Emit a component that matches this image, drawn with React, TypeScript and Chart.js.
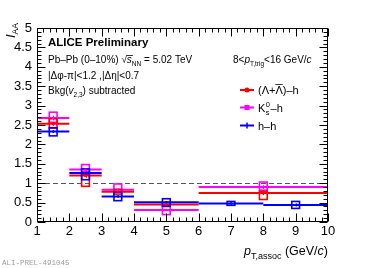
import React, { useEffect, useRef } from "react";
import { Chart, registerables } from "chart.js";
Chart.register(...registerables);

// ---- data ----
const lambdaX = [1.5, 2.5, 3.5, 5, 8];
const lambdaXLow = [1, 2, 3, 4, 6];
const lambdaXHigh = [2, 3, 4, 6, 10];
const lambdaY = [2.53, 1.2, 0.78, 0.45, 0.75];
const lambdaStat = [0.05, 0.06, 0.03, 0.03, 0.06];
const lambdaSysLow = [2.42, 0.92, 0.72, 0.4, 0.58];
const lambdaSysHigh = [2.66, 1.23, 0.84, 0.5, 0.79];

const k0X = [1.5, 2.5, 3.5, 5, 8];
const k0XLow = [1, 2, 3, 4, 6];
const k0XHigh = [2, 3, 4, 6, 10];
const k0Y = [2.68, 1.35, 0.83, 0.31, 0.9];
const k0Stat = [0.06, 0.04, 0.04, 0.03, 0.05];
const k0SysLow = [2.57, 1.3, 0.79, 0.19, 0.82];
const k0SysHigh = [2.83, 1.48, 0.98, 0.41, 1.03];

const hhX = [1.5, 2.5, 3.5, 5, 7, 9];
const hhXLow = [1, 2, 3, 4, 6, 8];
const hhXHigh = [2, 3, 4, 6, 8, 10];
const hhY = [2.33, 1.26, 0.66, 0.51, 0.48, 0.44];
const hhStat = [0.03, 0.04, 0.03, 0.03, 0.02, 0.04];
const hhSysLow = [2.22, 1.09, 0.55, 0.41, 0.43, 0.35];
const hhSysHigh = [2.43, 1.37, 0.77, 0.6, 0.53, 0.53];

const xTicks = [1, 2, 3, 4, 5, 6, 7, 8, 9, 10];
const yTicks = [0, 0.5, 1, 1.5, 2, 2.5, 3, 3.5, 4, 4.5, 5];
const referenceLine = 1;

const RED = "#ff0000";
const MAGENTA = "#ff00ff";
const BLUE = "#0000ff";
const FONT = '"Liberation Sans", Arial, Helvetica, sans-serif';

type Series = {
  x: number[]; xl: number[]; xh: number[]; y: number[]; stat: number[];
  sl: number[]; sh: number[]; color: string;
};
const seriesList: Series[] = [
  { x: k0X, xl: k0XLow, xh: k0XHigh, y: k0Y, stat: k0Stat, sl: k0SysLow, sh: k0SysHigh, color: MAGENTA },
  { x: lambdaX, xl: lambdaXLow, xh: lambdaXHigh, y: lambdaY, stat: lambdaStat, sl: lambdaSysLow, sh: lambdaSysHigh, color: RED },
  { x: hhX, xl: hhXLow, xh: hhXHigh, y: hhY, stat: hhStat, sl: hhSysLow, sh: hhSysHigh, color: BLUE },
];

type Part = { t: string; size: number; italic?: boolean; bold?: boolean; dy?: number };
const fontOf = (p: Part) => `${p.italic ? "italic " : ""}${p.bold ? "bold " : ""}${p.size}px ${FONT}`;
function drawRich(ctx: CanvasRenderingContext2D, x: number, y: number, parts: Part[], align = "left") {
  const widths = parts.map((p) => { ctx.font = fontOf(p); return ctx.measureText(p.t).width; });
  const total = widths.reduce((a, b) => a + b, 0);
  let cx = align === "right" ? x - total : x;
  const pos: number[] = [];
  parts.forEach((p, i) => {
    ctx.font = fontOf(p);
    ctx.textAlign = "left";
    ctx.textBaseline = "alphabetic";
    pos.push(cx);
    ctx.fillText(p.t, cx, y + (p.dy || 0));
    cx += widths[i];
  });
  return { end: cx, pos, widths };
}

const rootPlugin = {
  id: "rootStyle",
  beforeDatasetsDraw(chart: any) {
    const ctx: CanvasRenderingContext2D = chart.ctx;
    const xs = chart.scales.x, ys = chart.scales.y;
    ctx.save();
    // reference dashed line
    ctx.strokeStyle = "#555";
    ctx.lineWidth = 1;
    ctx.setLineDash([5, 3]);
    ctx.beginPath();
    const yr = Math.round(ys.getPixelForValue(referenceLine)) + 0.5;
    ctx.moveTo(xs.getPixelForValue(1), yr);
    ctx.lineTo(xs.getPixelForValue(10), yr);
    ctx.stroke();
    ctx.setLineDash([]);
    // error bars & systematic boxes
    const half = 0.12;
    seriesList.forEach((s) => {
      ctx.strokeStyle = s.color;
      s.x.forEach((xv, i) => {
        const py = ys.getPixelForValue(s.y[i]);
        ctx.lineWidth = 2;
        ctx.beginPath();
        ctx.moveTo(xs.getPixelForValue(s.xl[i]), py);
        ctx.lineTo(xs.getPixelForValue(s.xh[i]), py);
        ctx.stroke();
        const bx1 = xs.getPixelForValue(xv - half), bx2 = xs.getPixelForValue(xv + half);
        const by1 = ys.getPixelForValue(s.sh[i]), by2 = ys.getPixelForValue(s.sl[i]);
        ctx.lineWidth = 1.6;
        ctx.strokeRect(bx1, by1, bx2 - bx1, by2 - by1);
        ctx.lineWidth = 1;
        const px = Math.round(xs.getPixelForValue(xv)) + 0.5;
        ctx.beginPath();
        ctx.moveTo(px, ys.getPixelForValue(s.y[i] + s.stat[i]));
        ctx.lineTo(px, ys.getPixelForValue(s.y[i] - s.stat[i]));
        ctx.stroke();
      });
    });
    ctx.restore();
  },
  afterDraw(chart: any) {
    const ctx: CanvasRenderingContext2D = chart.ctx;
    const xs = chart.scales.x, ys = chart.scales.y;
    const { left, right, top, bottom } = chart.chartArea;
    ctx.save();
    ctx.strokeStyle = "#000";
    ctx.lineWidth = 1;
    const L = Math.round(left) + 0.5, R = Math.round(right) - 0.5, T = Math.round(top) + 0.5, B = Math.round(bottom) - 0.5;
    ctx.strokeRect(L, T, R - L, B - T);
    ctx.beginPath();
    for (let k = 0; k <= 45; k++) {
      const v = 1 + k * 0.2;
      const major = k % 5 === 0;
      const len = major ? 8 : 4;
      const px = Math.round(xs.getPixelForValue(v)) + 0.5;
      ctx.moveTo(px, B); ctx.lineTo(px, B - len);
      ctx.moveTo(px, T); ctx.lineTo(px, T + len);
    }
    for (let k = 0; k <= 50; k++) {
      const v = k * 0.1;
      const major = k % 5 === 0;
      const len = major ? 8 : 4;
      const py = Math.round(ys.getPixelForValue(v)) + 0.5;
      ctx.moveTo(L, py); ctx.lineTo(L + len, py);
      ctx.moveTo(R, py); ctx.lineTo(R - len, py);
    }
    ctx.stroke();

    ctx.fillStyle = "#000";
    // axis titles
    drawRich(ctx, right, 255, [
      { t: "p", size: 12.5, italic: true },
      { t: "T,assoc", size: 9, dy: 4 },
      { t: " (GeV/", size: 12.5 },
      { t: "c", size: 12.5, italic: true },
      { t: ")", size: 12.5 },
    ], "right");
    ctx.save();
    ctx.translate(15, 38);
    ctx.rotate(-Math.PI / 2);
    drawRich(ctx, 0, 0, [
      { t: "I", size: 13, italic: true },
      { t: "AA", size: 8.5, dy: 3 },
    ]);
    ctx.restore();

    // labels
    drawRich(ctx, 48, 46, [{ t: "ALICE Preliminary", size: 11.5, bold: true }]);
    const pb = drawRich(ctx, 48, 63, [
      { t: "Pb–Pb (0–10%) √", size: 10 },
      { t: "s", size: 10, italic: true },
      { t: "NN", size: 6.5, dy: 2.5 },
      { t: " = 5.02 TeV", size: 10 },
    ]);
    ctx.lineWidth = 0.8;
    ctx.beginPath();
    ctx.moveTo(pb.pos[1], 55.5);
    ctx.lineTo(pb.pos[1] + pb.widths[1] + 1, 55.5);
    ctx.stroke();
    drawRich(ctx, 48, 79, [{ t: "|Δφ-π|<1.2 ,|Δη|<0.7", size: 10 }]);
    drawRich(ctx, 48, 94, [
      { t: "Bkg(", size: 10 },
      { t: "v", size: 10, italic: true },
      { t: "2,3", size: 6.5, dy: 2.5 },
      { t: ") subtracted", size: 10 },
    ]);
    drawRich(ctx, 233, 63, [
      { t: "8<", size: 10 },
      { t: "p", size: 10, italic: true },
      { t: "T,trig", size: 6.5, dy: 3 },
      { t: "<16 GeV/", size: 10 },
      { t: "c", size: 10, italic: true },
    ]);

    // legend
    const legend = [
      { color: RED, y: 90, marker: "circle" },
      { color: MAGENTA, y: 107.5, marker: "square" },
      { color: BLUE, y: 125.5, marker: "cross" },
    ];
    legend.forEach((e) => {
      ctx.strokeStyle = e.color;
      ctx.fillStyle = e.color;
      ctx.lineWidth = 2;
      ctx.beginPath();
      ctx.moveTo(240, e.y); ctx.lineTo(254, e.y);
      ctx.stroke();
      if (e.marker === "circle") {
        ctx.beginPath(); ctx.arc(247, e.y, 2.5, 0, Math.PI * 2); ctx.fill();
      } else if (e.marker === "square") {
        ctx.fillRect(244.5, e.y - 2.5, 5, 5);
      } else {
        ctx.lineWidth = 1.5;
        ctx.beginPath(); ctx.moveTo(247, e.y - 3); ctx.lineTo(247, e.y + 3); ctx.stroke();
      }
    });
    ctx.fillStyle = "#000";
    ctx.strokeStyle = "#000";
    const l1 = drawRich(ctx, 258, 94, [
      { t: "(Λ+", size: 11 },
      { t: "Λ", size: 11 },
      { t: ")–h", size: 11 },
    ]);
    ctx.lineWidth = 0.8;
    ctx.beginPath();
    ctx.moveTo(l1.pos[1], 84.5); ctx.lineTo(l1.pos[1] + l1.widths[1], 84.5);
    ctx.stroke();
    ctx.font = fontOf({ t: "", size: 11 });
    ctx.fillText("K", 258, 111.5);
    const kw = ctx.measureText("K").width;
    ctx.font = fontOf({ t: "", size: 7.5 });
    ctx.fillText("0", 258 + kw + 0.5, 107);
    ctx.fillText("s", 258 + kw + 0.5, 114.5);
    const sw = ctx.measureText("0").width;
    ctx.font = fontOf({ t: "", size: 11 });
    ctx.fillText("–h", 258 + kw + sw + 1, 111.5);
    ctx.fillText("h–h", 258, 129.5);

    // watermark
    ctx.fillStyle = "#9a9a9a";
    ctx.font = '7.5px "Liberation Mono", "DejaVu Sans Mono", monospace';
    ctx.fillText("ALI-PREL-491045", 2, 265);
    ctx.restore();
  },
};

export default function App() {
  const ref = useRef<HTMLCanvasElement>(null);
  useEffect(() => {
    if (!ref.current) return;
    const mk = (s: Series) => s.x.map((xv, i) => ({ x: xv, y: s.y[i] }));
    const chart = new Chart(ref.current, {
      type: "scatter",
      data: {
        datasets: [
          { label: "K0s-h", data: mk(seriesList[0]), pointStyle: "rect", pointRadius: 1.5, backgroundColor: MAGENTA, borderColor: MAGENTA, borderWidth: 0 },
          { label: "Lambda-h", data: mk(seriesList[1]), pointStyle: "circle", pointRadius: 1.5, backgroundColor: RED, borderColor: RED, borderWidth: 0 },
          { label: "h-h", data: mk(seriesList[2]), pointStyle: "circle", pointRadius: 1.2, backgroundColor: BLUE, borderColor: BLUE, borderWidth: 0 },
        ],
      },
      options: {
        responsive: false,
        animation: false,
        devicePixelRatio: 1,
        layout: { padding: { top: 28, right: 37, left: 0, bottom: 0 } },
        plugins: { legend: { display: false }, tooltip: { enabled: false } },
        scales: {
          x: {
            type: "linear", min: 1, max: 10,
            afterBuildTicks: (s: any) => { s.ticks = xTicks.map((v) => ({ value: v })); },
            afterFit: (s: any) => { s.height = 46; },
            grid: { display: false, drawTicks: false, tickLength: 0 }, border: { display: false },
            ticks: { autoSkip: false, maxRotation: 0, padding: 2, color: "#000", font: { family: FONT, size: 13 }, callback: (v: any) => String(v) },
          },
          y: {
            type: "linear", min: 0, max: 5,
            afterBuildTicks: (s: any) => { s.ticks = yTicks.map((v) => ({ value: v })); },
            afterFit: (s: any) => { s.width = 37; },
            grid: { display: false, drawTicks: false, tickLength: 0 }, border: { display: false },
            ticks: { autoSkip: false, padding: 5, color: "#000", font: { family: FONT, size: 13 }, callback: (v: any) => String(v) },
          },
        },
      },
      plugins: [rootPlugin],
    });
    return () => chart.destroy();
  }, []);
  return (
    <div style={{ position: "fixed", left: 0, top: 0, width: 365, height: 268, background: "#fff" }}>
      <canvas ref={ref} width={365} height={268} style={{ width: 365, height: 268, display: "block" }} />
    </div>
  );
}
